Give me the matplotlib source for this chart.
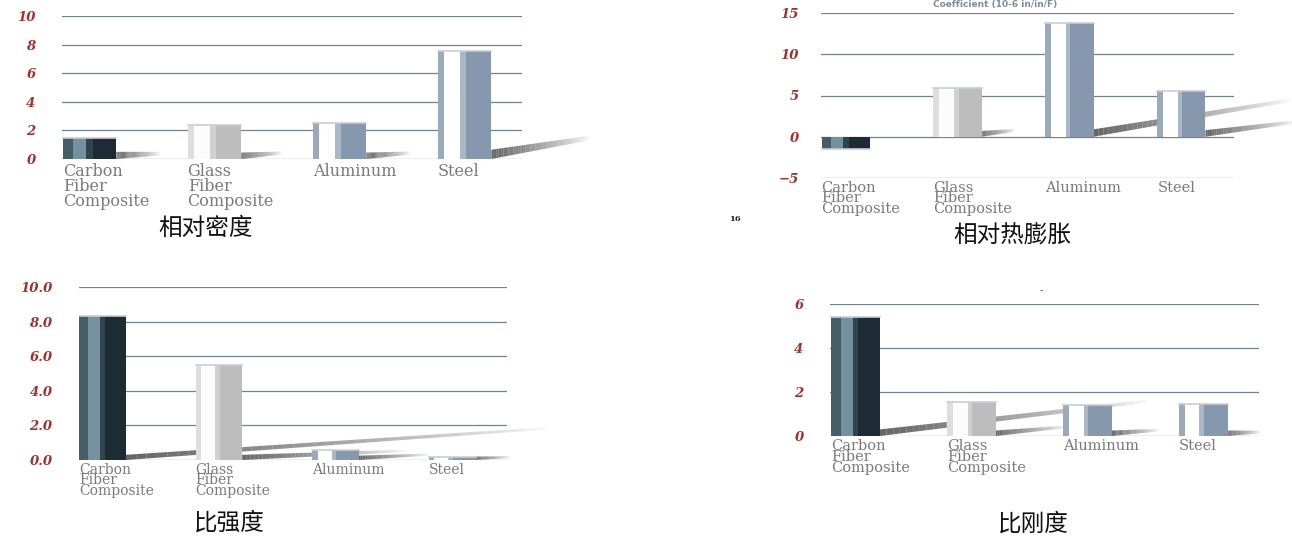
import numpy as np
import matplotlib
matplotlib.use('Agg')
import matplotlib.pyplot as plt

# dati
categorie = ['Carbon\nFiber\nComposite', 'Glass\nFiber\nComposite', 'Aluminum', 'Steel']
densita = [1.5, 2.4, 2.55, 7.55]
dilatazione = [-1.5, 5.85, 13.8, 5.55]
resistenza = [8.3, 5.5, 0.58, 0.2]
rigidezza = [5.4, 1.55, 1.4, 1.45]

tick_densita = [0, 2, 4, 6, 8, 10]
tick_dilatazione = [-5, 0, 5, 10, 15]
tick_resistenza = [0, 2, 4, 6, 8, 10]
lab_resistenza = ['0.0', '2.0', '4.0', '6.0', '8.0', '10.0']
tick_rigidezza = [0, 2, 4, 6]

titoli = ['相对密度', '相对热膨胀', '比强度', '比刚度']

# stile delle barre (strisce verticali)
strisce = {
    'carbon': (['#465c68', '#7591a0', '#31434d', '#1d2b34'], [0.2, 0.24, 0.12, 0.44]),
    'glass': (['#dedede', '#fcfcfc', '#d0d0d0', '#bdbdbd'], [0.12, 0.3, 0.1, 0.48]),
    'metal': (['#9aaabb', '#ffffff', '#aab7c5', '#8598ae'], [0.12, 0.3, 0.1, 0.48]),
}
tipo_barra = ['carbon', 'glass', 'metal', 'metal']

W, H = 1292, 538
fig = plt.figure(figsize=(W / 100, H / 100), dpi=100)
fig.patch.set_facecolor('white')


def assi(left, right, top, bottom):
    return fig.add_axes([left / W, (H - bottom) / H, (right - left) / W, (bottom - top) / H])


def ombra(ax, x0, y0, dx, dy, spessore, alpha=0.9, n=40):
    # nastro grigio sfumato dietro le barre
    t = np.linspace(0, 1, n + 1)
    for a, b in zip(t[:-1], t[1:]):
        xs = [x0 + a * dx, x0 + b * dx, x0 + b * dx, x0 + a * dx]
        yb = [y0 + a * dy, y0 + b * dy]
        ys = [yb[0], yb[1], yb[1] + spessore * (1 - 0.5 * b), yb[0] + spessore * (1 - 0.5 * a)]
        ax.fill(xs, ys, color='#555555', alpha=alpha * (1 - a) ** 0.8, lw=0,
                clip_on=False, zorder=1)


def pannello(ax, valori, ticks, labels, xlim, ylim, w, pad, fs_cat, ls_cat, off_cat, ombre):
    ax.set_xlim(*xlim)
    ax.set_ylim(*ylim)
    for s in ax.spines.values():
        s.set_visible(False)
    ax.set_yticks(ticks)
    ax.set_yticklabels(labels, fontfamily='DejaVu Serif', fontweight='bold',
                       fontstyle='italic', color='#a3322b', fontsize=9.5)
    ax.tick_params(axis='y', length=0, pad=pad)
    ax.set_xticks([])
    ax.grid(axis='y', color='#6f8391', lw=0.9)
    ax.set_axisbelow(True)
    ax.patch.set_alpha(0)

    for x0, y0, dx, dy, sp in ombre:
        ombra(ax, x0, y0, dx, dy, sp)

    for i, v in enumerate(valori):
        colori, fr = strisce[tipo_barra[i]]
        left = i - w / 2
        cum = 0
        for c, f in zip(colori, fr):
            ax.bar(left + cum * w, v, width=f * w, align='edge', color=c, lw=0, zorder=3)
            cum += f
        ax.plot([left, left + w], [v, v], color='#c9ced3', lw=1.2, zorder=4)
        ax.annotate(categorie[i], xy=(left, ylim[0]), xycoords='data',
                    xytext=(0, -off_cat), textcoords='offset points',
                    ha='left', va='top', fontsize=fs_cat, linespacing=ls_cat,
                    fontfamily='DejaVu Serif', color='#7a7a7a', annotation_clip=False)


# pannello 1: densita relativa
ax1 = assi(62, 522, 16, 159)
pannello(ax1, densita, tick_densita, [str(t) for t in tick_densita],
         (-0.22, 3.46), (0, 10), 0.43, 19, 11.5, 0.85, 3,
         [(0.215, 0, 0.35, 0.25, 0.5), (1.215, 0, 0.32, 0.3, 0.45),
          (2.215, 0, 0.35, 0.3, 0.45), (3.215, 0, 0.78, 1.3, 0.65)])

# pannello 2: dilatazione termica relativa
ax2 = assi(821, 1234, 13, 178)
pannello(ax2, dilatazione, tick_dilatazione, ['−5', '0', '5', '10', '15'],
         (-0.22, 3.47), (-5, 15), 0.43, 16, 10.5, 0.68, 2,
         [(1.215, 0, 0.3, 0.6, 0.7), (2.215, 0, 1.75, 4.2, 0.9),
          (3.215, 0, 0.8, 1.6, 0.8)])

# pannello 3: resistenza specifica
ax3 = assi(79, 507, 287, 460)
pannello(ax3, resistenza, tick_resistenza, lab_resistenza,
         (-0.2, 3.47), (0, 10), 0.4, 19, 10, 0.7, 2,
         [(0.2, 0, 3.6, 1.75, 0.3), (1.2, 0, 1.4, 0.45, 0.3),
          (2.2, 0, 0.6, 0.25, 0.25), (3.2, 0, 0.3, 0.12, 0.2)])

# pannello 4: rigidezza specifica
ax4 = assi(830, 1259, 304, 436)
pannello(ax4, rigidezza, tick_rigidezza, [str(t) for t in tick_rigidezza],
         (-0.22, 3.48), (0, 6), 0.42, 19, 10.5, 0.75, 2,
         [(0.21, 0, 2.3, 1.5, 0.3), (1.21, 0, 0.6, 0.35, 0.25),
          (2.21, 0, 0.4, 0.2, 0.25), (3.21, 0, 0.28, 0.12, 0.25)])

# titoli cinesi sotto ogni grafico
pos_titoli = [(206, 228), (1012, 236), (229, 523), (1033, 524)]
for t, (x, y) in zip(titoli, pos_titoli):
    fig.text(x / W, (H - y) / H, t, ha='center', va='center', fontsize=17,
             family=['Noto Sans CJK SC', 'DejaVu Sans'], color='#111111')

# scritte secondarie
fig.text(995 / W, (H - 5) / H, 'Coefficient (10-6 in/in/F)', ha='center', va='center',
         fontsize=6.5, fontweight='bold', color='#4a5b70', alpha=0.7)
fig.text(735 / W, (H - 219) / H, '16', ha='center', va='center', fontsize=6,
         fontweight='bold', family='DejaVu Serif', color='#222222')
fig.text(1041 / W, (H - 290) / H, '-', ha='center', va='center', fontsize=7, color='#555555')

fig.savefig('out.png', dpi=100, facecolor='white')
